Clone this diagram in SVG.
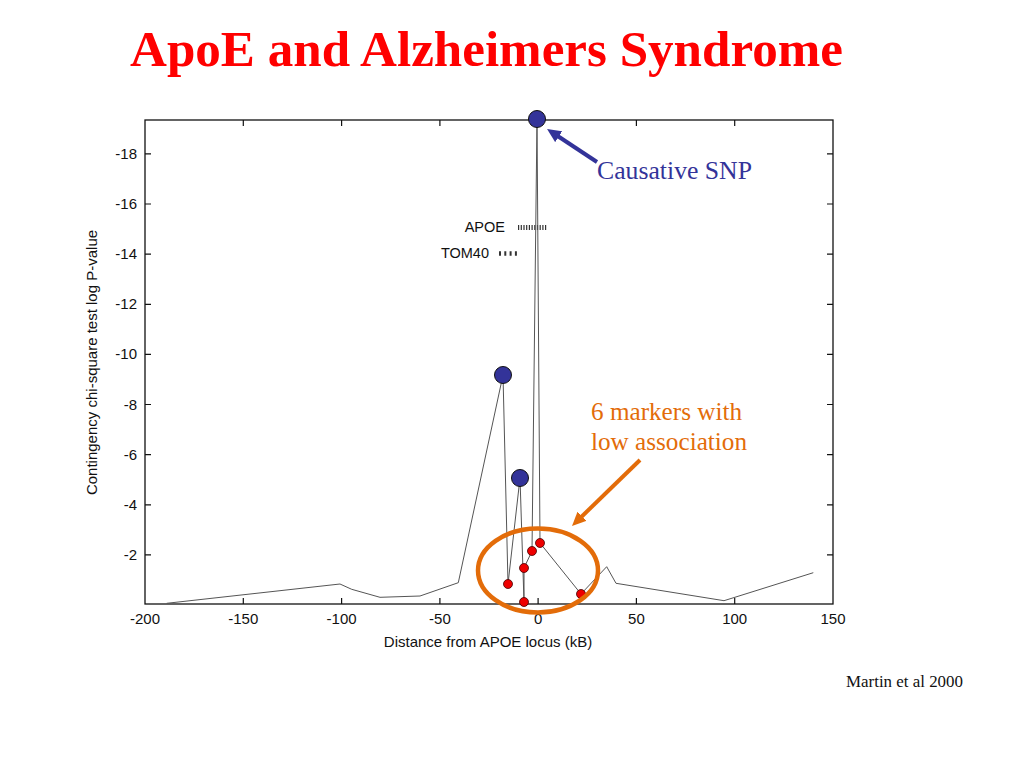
<svg xmlns="http://www.w3.org/2000/svg" width="1024" height="768" viewBox="0 0 1024 768">
<style>
  .serif{font-family:"Liberation Serif","Times New Roman",serif;}
  .sans{font-family:"Liberation Sans",Arial,Helvetica,sans-serif;font-size:15px;fill:#111;}
  .tick{stroke:#111;stroke-width:1.2;}
  .ylab{text-anchor:end;}
  .xlab{text-anchor:middle;}
  .data{fill:none;stroke:#555;stroke-width:1;stroke-linejoin:round;}
  .big{fill:#333399;stroke:#111;stroke-width:1;}
  .small{fill:#ee0000;stroke:#400;stroke-width:0.8;}
</style>
<defs>
  <marker id="headBlue" markerUnits="userSpaceOnUse" markerWidth="14" markerHeight="13" viewBox="0 0 14 13" refX="4" refY="6.5" orient="auto">
    <path d="M0,0 L14,6.5 L0,13 z" fill="#333399"/>
  </marker>
  <marker id="headOrange" markerUnits="userSpaceOnUse" markerWidth="14" markerHeight="13" viewBox="0 0 14 13" refX="4" refY="6.5" orient="auto">
    <path d="M0,0 L14,6.5 L0,13 z" fill="#E36C09"/>
  </marker>
</defs>
<rect width="1024" height="768" fill="#ffffff"/>

<g id="title">
  <text class="serif" x="130" y="66" font-size="51" font-weight="bold" fill="#ff0000" textLength="713" lengthAdjust="spacingAndGlyphs">ApoE and Alzheimers Syndrome</text>
</g>

<g id="plot-frame">
  <rect x="145" y="120" width="688" height="484" fill="none" stroke="#111" stroke-width="1.3"/>
  <path class="tick" d="M145,153.9h6 M145,204h6 M145,254.2h6 M145,304.3h6 M145,354.4h6 M145,404.5h6 M145,454.6h6 M145,504.8h6 M145,554.9h6
    M833,153.9h-6 M833,204h-6 M833,254.2h-6 M833,304.3h-6 M833,354.4h-6 M833,404.5h-6 M833,454.6h-6 M833,504.8h-6 M833,554.9h-6"/>
  <path class="tick" d="M243.3,604v-6 M341.6,604v-6 M439.9,604v-6 M538.1,604v-6 M636.4,604v-6 M734.7,604v-6
    M243.3,120v6 M341.6,120v6 M439.9,120v6 M538.1,120v6 M636.4,120v6 M734.7,120v6"/>
</g>

<g id="y-axis-labels" class="sans ylab">
  <text x="137" y="159">-18</text>
  <text x="137" y="209">-16</text>
  <text x="137" y="259">-14</text>
  <text x="137" y="309">-12</text>
  <text x="137" y="359">-10</text>
  <text x="137" y="410">-8</text>
  <text x="137" y="460">-6</text>
  <text x="137" y="510">-4</text>
  <text x="137" y="560">-2</text>
</g>
<g id="x-axis-labels" class="sans xlab">
  <text x="145" y="624">-200</text>
  <text x="243.3" y="624">-150</text>
  <text x="341.6" y="624">-100</text>
  <text x="439.9" y="624">-50</text>
  <text x="538.1" y="624">0</text>
  <text x="636.4" y="624">50</text>
  <text x="734.7" y="624">100</text>
  <text x="833" y="624">150</text>
</g>
<g id="axis-titles" class="sans">
  <text x="488" y="647" text-anchor="middle">Distance from APOE locus (kB)</text>
  <text transform="translate(97,362.5) rotate(-90)" text-anchor="middle">Contingency chi-square test log P-value</text>
</g>

<g id="gene-labels" class="sans">
  <text x="505" y="232" text-anchor="end" font-size="14.5">APOE</text>
  <line x1="518" y1="227.5" x2="547" y2="227.5" stroke="#333" stroke-width="5" stroke-dasharray="1.2 1.5"/>
  <text x="489" y="257.5" text-anchor="end" font-size="14.5">TOM40</text>
  <line x1="499" y1="253.5" x2="517" y2="253.5" stroke="#333" stroke-width="4.5" stroke-dasharray="2 3.3"/>
</g>

<g id="connectors">
  <path id="data-line" class="data" d="M166.7,603.3 L340,584 L351.7,589.3 L380,597.3 L420,596 L458.3,582.7 L503,375 L508,584 L520,478 L524,602 L524,568 L532,551 L537,119 L540,543 L581,594 L606.7,566.7 L616,583.3 L724,600.7 L813.3,572.7"/>
  <line id="arrow-causative" x1="597" y1="162" x2="555.4" y2="134.5" stroke="#333399" stroke-width="4" marker-end="url(#headBlue)"/>
  <line id="arrow-markers" x1="640" y1="460" x2="579.2" y2="519" stroke="#E36C09" stroke-width="4" marker-end="url(#headOrange)"/>
</g>

<g id="high-markers">
  <circle class="big" cx="537" cy="119" r="8.5"/>
  <circle class="big" cx="503" cy="375" r="8.5"/>
  <circle class="big" cx="520" cy="478" r="8.5"/>
</g>
<g id="low-markers">
  <circle class="small" cx="508" cy="584" r="4.5"/>
  <circle class="small" cx="524" cy="568" r="4.5"/>
  <circle class="small" cx="532" cy="551" r="4.5"/>
  <circle class="small" cx="540" cy="543" r="4.5"/>
  <circle class="small" cx="524" cy="602" r="4.5"/>
  <circle class="small" cx="581" cy="594" r="4.5"/>
</g>

<g id="low-association-circle">
  <ellipse cx="538" cy="570.5" rx="60" ry="42" fill="none" stroke="#E36C09" stroke-width="4.5"/>
</g>

<g id="label-causative">
  <text class="serif" x="597" y="179" font-size="25" fill="#333399" textLength="155" lengthAdjust="spacingAndGlyphs">Causative SNP</text>
</g>
<g id="label-low">
  <text class="serif" x="591" y="420" font-size="25" fill="#E36C09" textLength="151" lengthAdjust="spacingAndGlyphs">6 markers with</text>
  <text class="serif" x="591" y="450" font-size="25" fill="#E36C09" textLength="156" lengthAdjust="spacingAndGlyphs">low association</text>
</g>
<g id="citation">
  <text class="serif" x="846" y="687" font-size="17" fill="#111" textLength="117" lengthAdjust="spacingAndGlyphs">Martin et al 2000</text>
</g>
</svg>
